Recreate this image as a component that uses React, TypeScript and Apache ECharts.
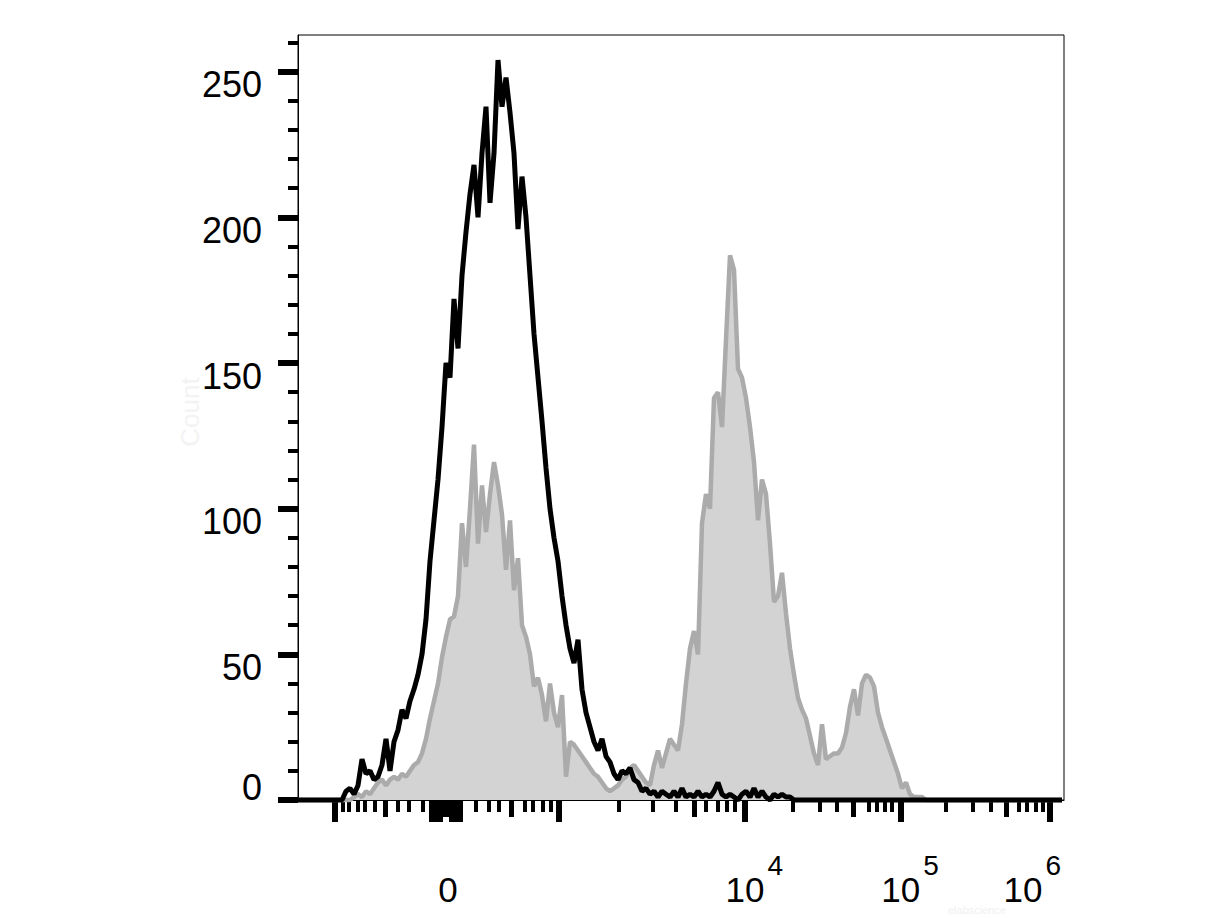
import React, { useEffect, useRef } from "react";
import * as echarts from "echarts";

// Histogram: 192 display bins across the biexponential x scale
const BIN_COUNT = 192;
const X_MAX = 191.5;
const Y_MAX = 262.6;

// Unstained / control (black outline), starting at bin 12
const blackStart = 12;
const blackCounts = [
  3, 4, 2, 5, 14, 9, 10, 7, 8, 12, 21, 10, 20, 24, 31, 28, 34, 38, 43, 50,
  62, 82, 96, 110, 128, 150, 145, 172, 155, 180, 195, 208, 218, 200, 222, 238, 205, 222, 254, 238,
  248, 236, 222, 196, 214, 200, 180, 160, 145, 130, 114, 100, 90, 82, 70, 60, 52, 47, 55, 38,
  30, 25, 20, 17, 21, 15, 13, 9, 7, 10, 9, 11, 7, 6, 3, 4, 2, 3, 1, 3,
  2, 1, 3, 1, 4, 1, 2, 1, 3, 1, 2, 1, 3, 6, 2, 1, 2, 1, 0, 2,
  3, 1, 4, 1, 3, 1, 0, 2, 1, 2, 1, 1, 0,
];

// Stained sample (grey filled), starting at bin 14
const grayStart = 14;
const grayCounts = [
  1, 2, 1, 3, 2, 4, 6, 7, 5, 7, 8, 7, 9, 8, 10, 12, 13, 16, 21, 28,
  34, 40, 49, 56, 62, 63, 70, 95, 80, 100, 122, 88, 108, 92, 105, 116, 108, 98, 79, 96,
  72, 83, 60, 56, 50, 39, 42, 36, 27, 40, 30, 25, 36, 8, 20, 19, 17, 15, 13, 11,
  9, 8, 6, 4, 3, 4, 5, 7, 8, 11, 12, 10, 8, 6, 5, 12, 17, 11, 16, 21,
  19, 17, 26, 40, 52, 58, 50, 95, 105, 100, 138, 140, 128, 158, 187, 182, 148, 145, 138, 128,
  116, 96, 110, 105, 88, 68, 70, 78, 64, 52, 43, 35, 31, 28, 22, 16, 12, 26, 14, 15,
  16, 16, 18, 23, 32, 38, 29, 40, 43, 42, 39, 30, 25, 21, 17, 13, 9, 4, 6, 2,
  1, 1, 1,
];

// Y axis ticks
const yMajorTicks = [0, 50, 100, 150, 200, 250];
const yMinorTicks = [
  10, 20, 30, 40, 60, 70, 80, 90, 110, 120, 130, 140, 160, 170, 180, 190,
  210, 220, 230, 240, 260,
];

// X axis ticks (bin positions on the biexponential display scale)
const xMajorTicks = [9.1, 33.5, 34.5, 35.5, 38.5, 39.5, 40.5, 65.3, 111.75, 150.7, 188];
const xMediumTicks = [21.8, 36.5, 37.5, 53.25, 99, 138.7, 177];
const xMinorTicks = [
  11.2, 12.8, 14.9, 16.6, 19.1, 24.9, 27.8, 31.2, 44.5, 47.7, 50.3, 56.6, 58.8, 61.2, 63.25,
  80.3, 88.7, 94.5, 102, 104.9, 107.2, 109.25, 123.7, 130.5, 134.8, 142.6, 144.8, 146.75, 148.4,
  161.9, 168.7, 173.2, 180.1, 182.2, 184.5, 186.25,
];

// X axis labels
const xLabelValues = [37.5, 111.75, 150.7, 188];
const xLabelBases = ["0", "10", "10", "10"];
const xLabelExponents = ["", "4", "5", "6"];

const FONT = "'Liberation Sans', Arial, Helvetica, sans-serif";

function buildSeries(start: number, counts: number[]) {
  return Array.from({ length: BIN_COUNT }, (_, i) => {
    const v = counts[i - start];
    return [i, v === undefined ? 0 : v];
  });
}

export default function App() {
  const ref = useRef<HTMLDivElement>(null);

  useEffect(() => {
    if (!ref.current) return;
    const chart = echarts.init(ref.current, null, { renderer: "svg" });

    const baseX = {
      type: "value" as const,
      min: 0,
      max: X_MAX,
      position: "bottom" as const,
      splitLine: { show: false },
      axisLabel: { show: false },
    };

    const option: any = {
      animation: false,
      backgroundColor: "#ffffff",
      grid: {
        left: 298,
        top: 35,
        width: 766,
        height: 765,
        show: true,
        borderColor: "#000",
        borderWidth: 1,
        containLabel: false,
      },
      xAxis: [
        {
          ...baseX,
          axisLine: { show: true, onZero: false, lineStyle: { color: "#000", width: 1 } },
          axisTick: { show: true, customValues: xMinorTicks, length: 12, lineStyle: { color: "#000", width: 4 } },
        },
        {
          ...baseX,
          axisLine: { show: false, onZero: false },
          axisTick: { show: true, customValues: xMediumTicks, length: 17, lineStyle: { color: "#000", width: 5 } },
        },
        {
          ...baseX,
          axisLine: { show: false, onZero: false },
          axisTick: { show: true, customValues: xMajorTicks, length: 22, lineStyle: { color: "#000", width: 6 } },
        },
      ],
      yAxis: [
        {
          type: "value",
          min: 0,
          max: Y_MAX,
          position: "left",
          splitLine: { show: false },
          axisLine: { show: true, onZero: false, lineStyle: { color: "#000", width: 1 } },
          axisTick: { show: true, customValues: yMajorTicks, length: 20, lineStyle: { color: "#000", width: 6 } },
          axisLabel: {
            show: true,
            customValues: yMajorTicks,
            margin: 36,
            verticalAlign: "middle",
            formatter: (v: number) => (v === 0 ? `{z|0}` : `{n|${v}}`),
            rich: {
              n: { fontFamily: FONT, fontSize: 36, lineHeight: 36, color: "#000", padding: [26, 0, 0, 0] },
              z: { fontFamily: FONT, fontSize: 36, lineHeight: 36, color: "#000", padding: [0, 0, 26, 0] },
            },
          },
        },
        {
          type: "value",
          min: 0,
          max: Y_MAX,
          position: "left",
          splitLine: { show: false },
          axisLine: { show: false, onZero: false },
          axisTick: { show: true, customValues: yMinorTicks, length: 10, lineStyle: { color: "#000", width: 4 } },
          axisLabel: { show: false },
        },
      ],
      series: [
        {
          type: "line",
          name: "Stained",
          xAxisIndex: 0,
          yAxisIndex: 0,
          data: buildSeries(grayStart, grayCounts),
          symbol: "none",
          clip: false,
          z: 2,
          lineStyle: { color: "#ababab", width: 4.5 },
          areaStyle: { color: "#d3d3d3", opacity: 1 },
        },
        {
          type: "line",
          name: "Control",
          xAxisIndex: 0,
          yAxisIndex: 0,
          data: buildSeries(blackStart, blackCounts),
          symbol: "none",
          clip: false,
          z: 3,
          lineStyle: { color: "#000000", width: 5 },
        },
      ],
    };

    chart.setOption(option);

    // X labels positioned from the axis scale
    const y0 = chart.convertToPixel({ yAxisIndex: 0 }, 0) as number;
    const gridRight = chart.convertToPixel({ xAxisIndex: 0 }, X_MAX) as number;
    const baseSize = 35;
    const expSize = 28;
    const graphics: any[] = [
      {
        type: "text",
        left: 948,
        top: 904,
        z: 1,
        style: { text: "elabscience", fontFamily: FONT, fontSize: 11, fill: "#f0f0f0" },
      },
      {
        type: "text",
        x: 190,
        y: 412,
        rotation: Math.PI / 2,
        z: 1,
        style: {
          text: "Count",
          fontFamily: FONT,
          fontSize: 26,
          fill: "#f3f3f3",
          align: "center",
          verticalAlign: "middle",
        },
      },
    ];
    xLabelValues.forEach((v, k) => {
      const px = chart.convertToPixel({ xAxisIndex: 0 }, v) as number;
      const base = xLabelBases[k];
      const exp = xLabelExponents[k];
      const baseW = base.length * baseSize * 0.556;
      const expW = exp.length * expSize * 0.556;
      let center = px;
      const gap = 3;
      if (exp) {
        const right = center + baseW / 2 + gap + expW;
        if (right > gridRight) center -= right - gridRight + 3;
      }
      graphics.push({
        type: "text",
        x: center,
        y: y0 + 89,
        z: 10,
        style: {
          text: base,
          fontFamily: FONT,
          fontSize: baseSize,
          fill: "#000",
          align: "center",
          verticalAlign: "middle",
        },
      });
      if (exp) {
        graphics.push({
          type: "text",
          x: center + baseW / 2 + gap,
          y: y0 + 65,
          z: 10,
          style: {
            text: exp,
            fontFamily: FONT,
            fontSize: expSize,
            fill: "#000",
            align: "left",
            verticalAlign: "middle",
          },
        });
      }
    });
    chart.setOption({ graphic: graphics });

    return () => {
      chart.dispose();
    };
  }, []);

  return (
    <div
      ref={ref}
      style={{ position: "absolute", left: 0, top: 0, width: 1224, height: 918 }}
    />
  );
}
